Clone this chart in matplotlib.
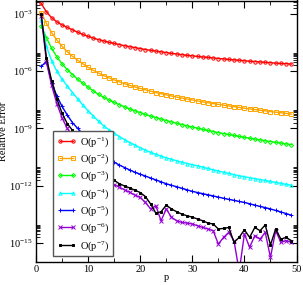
import numpy as np
import matplotlib
matplotlib.use("Agg")
import matplotlib.pyplot as plt
from matplotlib.ticker import FixedLocator, FuncFormatter, MultipleLocator

plt.rcParams['font.family'] = 'serif'
plt.rcParams['font.serif'] = ['Liberation Serif', 'DejaVu Serif']
plt.rcParams['mathtext.fontset'] = 'custom'
plt.rcParams['mathtext.rm'] = 'Liberation Serif'
plt.rcParams['mathtext.it'] = 'Liberation Serif:italic'

p = np.arange(1, 50)

# log10 of the relative error
err_p1 = [-2.45, -2.90, -3.20, -3.42, -3.58, -3.71, -3.84, -3.96, -4.08, -4.18,
          -4.27, -4.35, -4.42, -4.49, -4.55, -4.61, -4.67, -4.72, -4.77, -4.82,
          -4.87, -4.91, -4.95, -4.99, -5.03, -5.07, -5.10, -5.14, -5.17, -5.20,
          -5.23, -5.26, -5.28, -5.31, -5.34, -5.36, -5.39, -5.41, -5.43, -5.46,
          -5.48, -5.50, -5.52, -5.54, -5.56, -5.58, -5.60, -5.61, -5.63]
err_p2 = [-2.93, -3.50, -3.98, -4.37, -4.70, -4.98, -5.22, -5.43, -5.62, -5.80,
          -5.96, -6.10, -6.23, -6.35, -6.46, -6.56, -6.66, -6.75, -6.83, -6.91,
          -6.98, -7.05, -7.12, -7.18, -7.24, -7.30, -7.36, -7.41, -7.46, -7.51,
          -7.56, -7.61, -7.65, -7.70, -7.74, -7.78, -7.82, -7.86, -7.90, -7.94,
          -7.98, -8.01, -8.05, -8.08, -8.12, -8.15, -8.18, -8.21, -8.25]
err_p3 = [-3.63, -4.25, -4.80, -5.25, -5.62, -5.92, -6.18, -6.42, -6.63, -6.84,
          -7.04, -7.22, -7.37, -7.51, -7.64, -7.76, -7.87, -7.98, -8.08, -8.17,
          -8.27, -8.35, -8.43, -8.51, -8.59, -8.66, -8.73, -8.80, -8.87, -8.93,
          -8.99, -9.05, -9.11, -9.17, -9.22, -9.27, -9.32, -9.37, -9.42, -9.47,
          -9.51, -9.56, -9.60, -9.65, -9.69, -9.73, -9.77, -9.81, -9.85]
err_p4 = [-3.30, -4.70, -5.45, -6.00, -6.42, -6.78, -7.12, -7.45, -7.78, -8.08,
          -8.36, -8.62, -8.87, -9.07, -9.26, -9.43, -9.59, -9.74, -9.88, -10.01,
          -10.14, -10.26, -10.36, -10.45, -10.54, -10.62, -10.70, -10.77, -10.84, -10.90,
          -10.96, -11.03, -11.10, -11.17, -11.23, -11.30, -11.36, -11.42, -11.48, -11.53,
          -11.58, -11.63, -11.68, -11.73, -11.78, -11.83, -11.88, -11.93, -11.98]
err_p5 = [-5.75, -5.50, -6.60, -7.30, -7.85, -8.30, -8.70, -9.00, -9.30, -9.60,
          -9.88, -10.12, -10.37, -10.60, -10.77, -10.92, -11.05, -11.18, -11.30, -11.40,
          -11.50, -11.60, -11.70, -11.80, -11.90, -11.98, -12.06, -12.14, -12.22, -12.30,
          -12.36, -12.42, -12.48, -12.54, -12.60, -12.66, -12.72, -12.77, -12.83, -12.88,
          -12.95, -13.02, -13.09, -13.15, -13.22, -13.30, -13.38, -13.46, -13.55]
err_p6 = [-3.10, -5.50, -6.75, -7.70, -8.45, -9.00, -9.40, -9.80, -10.15, -10.50,
          -10.85, -11.20, -11.50, -11.78, -11.95, -12.08, -12.22, -12.35, -12.50, -12.62,
          -12.88, -13.22, -13.05, -13.84, -13.22, -13.66, -13.84, -13.93, -13.96, -14.01,
          -14.10, -14.19, -14.27, -14.36, -15.06, -14.71, -14.45, -14.88, -16.50, -14.53,
          -15.23, -14.62, -14.80, -14.45, -15.76, -14.36, -14.97, -14.88, -14.97]
err_p7 = [-3.02, -5.30, -6.50, -7.45, -8.20, -8.75, -9.10, -9.40, -9.75, -10.10,
          -10.45, -10.80, -11.15, -11.50, -11.72, -11.90, -12.02, -12.12, -12.24, -12.36,
          -12.57, -12.96, -13.44, -13.37, -13.02, -13.22, -13.37, -13.49, -13.58, -13.65,
          -13.75, -13.84, -13.96, -14.01, -14.27, -14.24, -14.19, -14.97, -14.71, -14.31,
          -14.71, -14.19, -14.36, -14.06, -15.11, -14.27, -14.80, -14.71, -14.88]

labels = [r'O(p$^{\mathregular{-%d}}$)' % k for k in range(1, 8)]
series = [err_p1, err_p2, err_p3, err_p4, err_p5, err_p6, err_p7]
colors = ['#ff0000', '#ffa500', '#00ff00', '#00ffff', '#0000ff', '#9400d3', '#000000']
markers = ['o', 's', 'D', '^', '+', 'x', 's']
msizes = [2.4, 2.3, 2.1, 2.4, 2.6, 2.4, 1.8]

fig = plt.figure(figsize=(3.03, 2.85), dpi=100)
ax = fig.add_axes([36 / 303, 23 / 285, 260.5 / 303, 261.5 / 285])

for vals, lab, c, m, ms in zip(series, labels, colors, markers, msizes):
    filled = m in ('+', 'x') or c == '#000000'
    ax.plot(p, 10.0 ** np.array(vals), color=c, lw=1.0, marker=m,
            markersize=ms, markeredgewidth=0.7,
            markerfacecolor=c if filled else 'none', label=lab)

ax.set_yscale('log')
ax.set_xlim(0, 50)
ax.set_ylim(1e-16, 10 ** -2.3)

majors = [10.0 ** e for e in (-3, -6, -9, -12, -15)]
minors = [k * 10.0 ** e for e in (-3, -6, -9, -12, -15) for k in range(2, 10)]
ax.yaxis.set_major_locator(FixedLocator(majors))
ax.yaxis.set_minor_locator(FixedLocator(minors))
ax.yaxis.set_major_formatter(FuncFormatter(
    lambda v, pos: r'$\mathregular{10^{%d}}$' % round(np.log10(v))))
ax.xaxis.set_major_locator(MultipleLocator(10))
ax.xaxis.set_minor_locator(MultipleLocator(5))

ax.tick_params(which='both', direction='in', top=True, right=True, labelsize=7.5, pad=2.5)
ax.tick_params(which='major', length=5, width=0.8)
ax.tick_params(which='minor', length=3, width=0.6)
for s in ax.spines.values():
    s.set_linewidth(1.0)

ax.set_xlabel('p', fontsize=7.5, labelpad=-1)
ax.set_ylabel('Relative Error', fontsize=7.5, labelpad=1)

leg = ax.legend(loc='upper left', bbox_to_anchor=(0.065, 0.501), borderaxespad=0,
                fontsize=7.5, numpoints=2, handlelength=1.9, handletextpad=0.35,
                labelspacing=0.33, borderpad=0.35, fancybox=False, framealpha=1)
leg.get_frame().set_edgecolor('#555555')
leg.get_frame().set_linewidth(1.0)

fig.savefig('out.png', dpi=100)
